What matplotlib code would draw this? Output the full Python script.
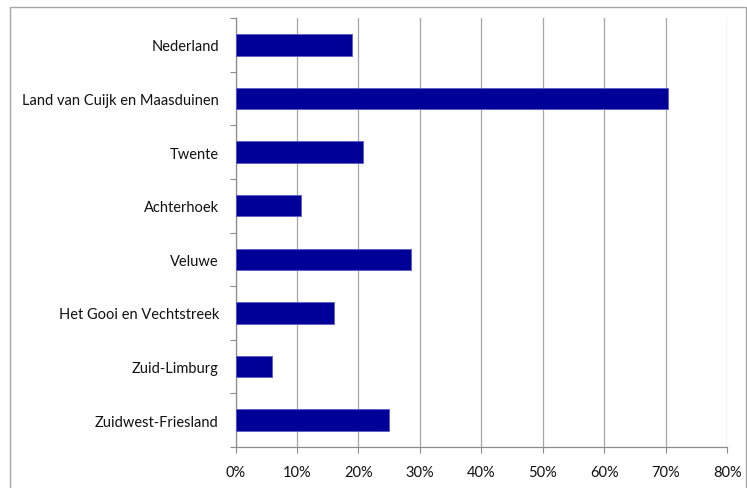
import matplotlib.pyplot as plt
from matplotlib.patches import Rectangle
from matplotlib.ticker import FuncFormatter

# share per region, top to bottom
regions = ['Nederland', 'Land van Cuijk en Maasduinen', 'Twente', 'Achterhoek',
           'Veluwe', 'Het Gooi en Vechtstreek', 'Zuid-Limburg', 'Zuidwest-Friesland']
shares = [0.190, 0.704, 0.208, 0.107, 0.286, 0.160, 0.060, 0.249]
xticks = [0.0, 0.1, 0.2, 0.3, 0.4, 0.5, 0.6, 0.7, 0.8]

plt.rcParams['font.family'] = ['Lato', 'DejaVu Sans']

fig = plt.figure(figsize=(7.47, 4.89), dpi=100)
ax = fig.add_axes([0.3153, 0.0838, 0.6583, 0.8773])

# chart frame around everything
fig.patches.append(Rectangle((10 / 747, -0.01), 735.5 / 747, 1 - 8 / 489 + 0.01,
                             transform=fig.transFigure, fill=False,
                             edgecolor='#a6a6a6', linewidth=1.0))

pos = list(range(len(regions)))
ax.barh(pos, shares, height=0.4, color='#000099', edgecolor='#5a5ac8', linewidth=0.6, zorder=3)

ax.set_ylim(len(regions) - 0.5, -0.5)
ax.set_yticks(pos)
ax.set_yticklabels(regions, fontsize=10.5, color='#111111')
ax.set_yticks([p + 0.5 for p in [-1] + pos], minor=True)
ax.tick_params(axis='y', which='major', length=0, pad=12)
ax.tick_params(axis='y', which='minor', length=4, color='#8c8c8c', width=0.8)

ax.set_xlim(0, 0.8)
ax.set_xticks(xticks)
ax.xaxis.set_major_formatter(FuncFormatter(lambda v, p: f'{v * 100:.0f}%'))
ax.tick_params(axis='x', length=4, color='#8c8c8c', width=0.8, labelsize=10.5,
               labelcolor='#111111', pad=9)
ax.grid(axis='x', color='#a6a6a6', linewidth=0.9, zorder=0)

for side in ['top', 'right']:
    ax.spines[side].set_visible(False)
for side in ['left', 'bottom']:
    ax.spines[side].set_color('#8c8c8c')
    ax.spines[side].set_linewidth(0.9)

fig.savefig('out.png', dpi=100)
